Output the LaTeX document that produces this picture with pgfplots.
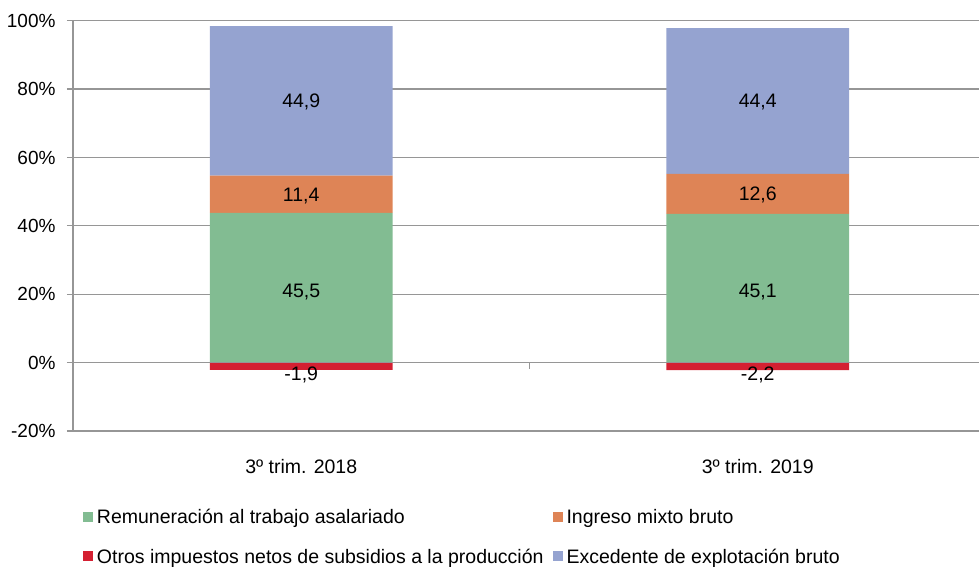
\documentclass[border=0pt]{standalone}
\usepackage{pgfplots}
\pgfplotsset{compat=1.18}
\usepackage{pgfplotstable}
\usepackage{fontspec}
\setmainfont{Liberation Sans}
\definecolor{cgreen}{RGB}{130,188,146}
\definecolor{corange}{RGB}{222,132,86}
\definecolor{cred}{RGB}{212,32,50}
\definecolor{cblue}{RGB}{149,163,208}
\definecolor{lgray}{RGB}{150,150,150}
\newcommand\fs{\fontsize{19.5bp}{23bp}\selectfont}
\newcommand\ft{\fontsize{19bp}{23bp}\selectfont}

\pgfplotstableread{
x green orange blue
0 43.8 10.9 43.7
1 43.5 11.7 42.6
}\posdata
\pgfplotstableread{
x red
0 -2.1
1 -2.2
}\negdata
\pgfplotstableread{
x y lab
0 20.6 45,5
0 48.7 11,4
0 76.3 44,9
0 -3.5 -1,9
1 20.5 45,1
1 48.9 12,6
1 76.2 44,4
1 -3.5 -2,2
}\labdata

\pgfplotsset{base/.style={scale only axis, width=906bp, height=410.3bp,
  xmin=-0.5, xmax=1.4847, ymin=-20, ymax=100, enlargelimits=false,
  at={(73bp,136bp)}, anchor=south west}}

\begin{document}
\begin{tikzpicture}
\useasboundingbox (0,0) rectangle (979bp,567bp);
\begin{axis}[base,
  axis x line*=bottom, axis y line*=left,
  axis line style={-}, x axis line style={draw=none},
  y axis line style={lgray, line width=1.2bp},
  ytick={-20,0,20,40,60,80,100},
  yticklabel={\pgfmathprintnumber{\tick}\%},
  /pgf/number format/assume math mode=true,
  yticklabel style={font=\ft, text=black, xshift=-8bp},
  tick align=outside, major tick length=6bp,
  ytick style={lgray, line width=1.2bp},
  xtick={0,1}, xticklabels={3º trim. 2018, 3º trim. 2019},
  xtick style={draw=none},
  xticklabel style={font=\fs, text=black, yshift=-19bp},
  ymajorgrids, major grid style={lgray, line width=1.2bp},
]
\addplot[ybar, bar width=0.4, fill=cred, draw=none] table[x=x,y=red] {\negdata};
\end{axis}
\begin{axis}[base, hide axis, ybar stacked, bar width=0.4,
  legend columns=2,
  legend style={draw=none, fill=none, inner sep=0pt, outer sep=0pt,
    at={(0.011,-0.192)}, anchor=north west, font=\fs, row sep=21.5bp,
    /tikz/every odd column/.append style={column sep=4bp},
    /tikz/every even column/.append style={column sep=9bp},
    nodes={inner sep=0pt, text height=14bp, text depth=4bp}},
  legend cell align=left,
  legend image code/.code={\path[#1,draw=none] (0bp,-3bp) rectangle (10bp,7bp);},
]
\addplot[fill=cgreen, draw=none] table[x=x,y=green] {\posdata};
\addlegendentry{Remuneración al trabajo asalariado}
\addplot[fill=corange, draw=none] table[x=x,y=orange] {\posdata};
\addlegendentry{Ingreso mixto bruto}
\addlegendimage{fill=cred, draw=none}
\addlegendentry{Otros impuestos netos de subsidios a la producción}
\addplot[fill=cblue, draw=none] table[x=x,y=blue] {\posdata};
\addlegendentry{Excedente de explotación bruto}
\end{axis}
\begin{axis}[base, hide axis]
\addplot[lgray, line width=1.2bp] coordinates {(-0.5,0) (1.4847,0)};
\addplot[lgray, line width=1.2bp] coordinates {(0.5,0) (0.5,-2)};
\addplot[only marks, mark=*, mark size=0pt,
  mark options={draw=none, fill=none},
  point meta=explicit symbolic, nodes near coords,
  nodes near coords style={anchor=center, font=\fs, text=black}]
  table[x=x, y=y, meta=lab] {\labdata};
\end{axis}
\end{tikzpicture}
\end{document}
